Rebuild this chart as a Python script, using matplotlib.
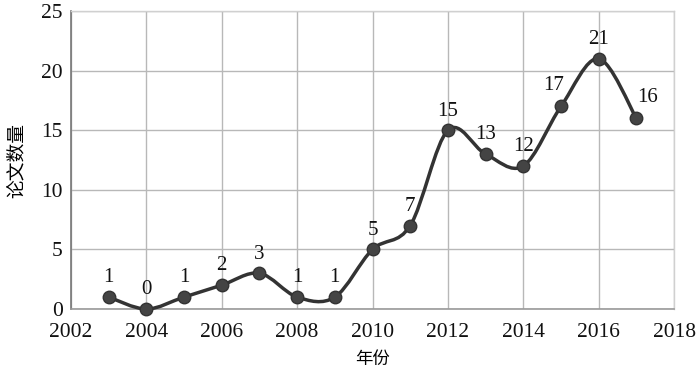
import numpy as np
import matplotlib
matplotlib.use("Agg")
import matplotlib.pyplot as plt
from matplotlib.path import Path
from matplotlib.patches import PathPatch

years = [2003, 2004, 2005, 2006, 2007, 2008, 2009, 2010, 2011, 2012, 2013, 2014, 2015, 2016, 2017]
counts = [1, 0, 1, 2, 3, 1, 1, 5, 7, 15, 13, 12, 17, 21, 16]
xticks = [2002, 2004, 2006, 2008, 2010, 2012, 2014, 2016, 2018]
yticks = [0, 5, 10, 15, 20, 25]

serif = ['Liberation Serif', 'DejaVu Serif']
cjk = ['Noto Sans CJK SC', 'DejaVu Sans']

fig = plt.figure(figsize=(7, 3.81), dpi=100)
ax = fig.add_axes([0.1014, 0.189, 0.8616, 0.782])
ax.set_xlim(2002, 2018)
ax.set_ylim(0, 25)
ax.set_xticks(xticks)
ax.set_yticks(yticks)
ax.grid(True, color='#b8b8b8', linewidth=1.0)
ax.set_axisbelow(True)
for s in ['top', 'right']:
    ax.spines[s].set_color('#d0d0d0')
    ax.spines[s].set_linewidth(1.0)
ax.spines['left'].set_color('#777777')
ax.spines['bottom'].set_color('#999999')
ax.spines['left'].set_linewidth(1.2)
ax.spines['bottom'].set_linewidth(1.2)
ax.tick_params(length=0, labelsize=15.5)
ax.tick_params(axis='x', pad=10)
ax.tick_params(axis='y', pad=6)
for lab in ax.get_xticklabels() + ax.get_yticklabels():
    lab.set_fontfamily(serif)
    lab.set_color('#111111')

# smooth curve (Catmull-Rom via Bezier path)
x = np.array(years, dtype=float)
y = np.array(counts, dtype=float)
n = len(x)
verts = [(x[0], y[0])]
codes = [Path.MOVETO]
t = 1.0 / 6.0
for i in range(n - 1):
    p0 = (x[i - 1], y[i - 1]) if i > 0 else (x[i], y[i])
    p1 = (x[i], y[i])
    p2 = (x[i + 1], y[i + 1])
    p3 = (x[i + 2], y[i + 2]) if i + 2 < n else (x[i + 1], y[i + 1])
    c1 = (p1[0] + (p2[0] - p0[0]) * t, p1[1] + (p2[1] - p0[1]) * t)
    c2 = (p2[0] - (p3[0] - p1[0]) * t, p2[1] - (p3[1] - p1[1]) * t)
    verts += [c1, c2, p2]
    codes += [Path.CURVE4] * 3
patch = PathPatch(Path(verts, codes), facecolor='none', edgecolor='#333333', linewidth=2.5, zorder=3)
patch.set_clip_on(False)
ax.add_patch(patch)
ax.plot(years, counts, linestyle='none', marker='o', markersize=9, color='#444444',
        markeredgecolor='#333333', zorder=4, clip_on=False)

label_offsets = {2015: (-5, 8), 2017: (8, 8)}
for xi, yi in zip(years, counts):
    dx, dy = label_offsets.get(xi, (0, 7))
    ax.annotate(str(yi), (xi, yi), xytext=(dx, dy), textcoords='offset points', ha='center', va='bottom',
                fontsize=15, fontfamily=serif, color='#111111')

ax.set_xlabel('年份', fontfamily=cjk, fontsize=12.5, labelpad=6)
ax.set_ylabel('论文数量', fontfamily=cjk, fontsize=13.5, labelpad=10)

fig.savefig('out.png', dpi=100)
